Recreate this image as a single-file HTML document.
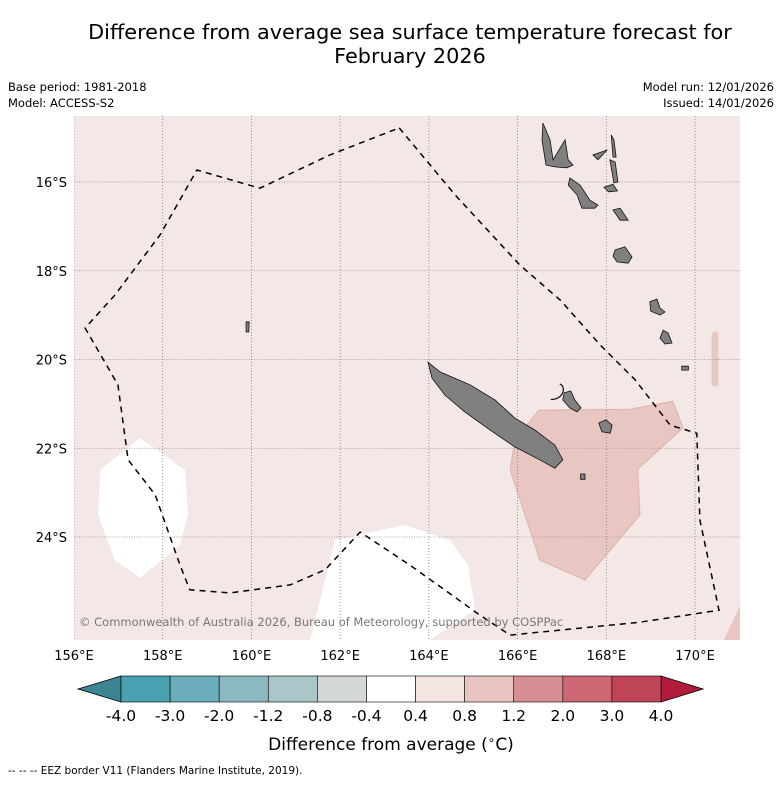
<!DOCTYPE html>
<html><head><meta charset="utf-8"><style>
body{margin:0;background:#fff;}
svg text{font-family:"DejaVu Sans","Liberation Sans",sans-serif;}
</style></head><body>
<svg id="chart" width="781" height="781" viewBox="0 0 781 781">
<text x="410" y="39" font-size="20.8" text-anchor="middle" fill="#000">Difference from average sea surface temperature forecast for</text>
<text x="410" y="63" font-size="20.8" text-anchor="middle" fill="#000">February 2026</text>
<text x="8" y="91" font-size="11.5">Base period: 1981-2018</text>
<text x="8" y="107" font-size="11.5">Model: ACCESS-S2</text>
<text x="774" y="91" font-size="11.5" text-anchor="end">Model run: 12/01/2026</text>
<text x="774" y="107" font-size="11.5" text-anchor="end">Issued: 14/01/2026</text>
<defs><clipPath id="mapclip"><rect x="74" y="116" width="666" height="524"/></clipPath></defs>
<rect x="74" y="116" width="666" height="524" fill="#f4e8e6"/>
<g id="map" clip-path="url(#mapclip)"></g>
<g id="axes"></g>
<text x="79" y="626" font-size="11.5" fill="#777">© Commonwealth of Australia 2026, Bureau of Meteorology, supported by COSPPac</text>
<g id="cbar"></g>
<text x="391" y="750" font-size="17" text-anchor="middle">Difference from average (<tspan font-size="12" dy="-6">∘</tspan><tspan dy="6">C)</tspan></text>
<text x="8" y="774" font-size="10.5">--  --  -- EEZ border V11 (Flanders Marine Institute, 2019).</text>
</svg>
<script>
const lonTicks=[156,158,160,162,164,166,168,170];
const latTicks=[16,18,20,22,24];
const cbLevels=[-4.0,-3.0,-2.0,-1.2,-0.8,-0.4,0.4,0.8,1.2,2.0,3.0,4.0];
const cbColors=["#4aa1b1","#6badba","#8cb8c1","#a9c6c9","#d4d7d7","#ffffff","#f4e4e2","#e8c5c0","#d88f93","#cd6873","#bf4457"];
const cbUnder="#3d8593", cbOver="#b01c3a";
const pinkRegion=[[166.48,21.14],[168.53,21.12],[169.50,20.94],[169.73,21.54],[168.71,22.47],[168.76,23.50],[167.52,24.97],[166.50,24.52],[165.83,22.49],[165.94,21.81]];
const pinkCorner=[[170.61,26.4],[171.1,25.37],[171.1,26.4]];
const pinkStreak=[[170.45,19.45],[170.45,20.53]];
const whiteRegion1=[[157.49,21.77],[158.50,22.49],[158.57,23.50],[158.39,24.18],[157.49,24.92],[156.92,24.52],[156.54,23.50],[156.59,22.49]];
const whiteRegion2=[[161.55,25.42],[161.88,24.07],[163.46,23.73],[164.48,24.07],[164.88,24.63],[165.04,25.65],[164.03,26.32],[161.32,26.32]];
const eez=[[163.33,14.78],[164.59,16.29],[166.05,17.87],[166.96,18.66],[167.86,19.67],[168.65,20.46],[169.44,21.48],[170.04,21.66],[170.11,23.62],[170.54,25.65],[168.76,25.92],[165.83,26.21],[165.15,25.76],[163.57,24.63],[162.45,23.89],[161.66,24.74],[160.87,25.08],[159.52,25.26],[158.61,25.19],[158.39,24.63],[157.83,23.05],[157.22,22.26],[156.99,20.57],[156.25,19.29],[156.92,18.55],[157.94,17.19],[158.77,15.73],[160.19,16.14],[161.77,15.39],[163.33,14.78]];
const islands=[
 [[163.98,20.06],[164.25,20.28],[164.93,20.57],[165.49,20.91],[165.94,21.32],[166.39,21.59],[166.84,21.93],[167.02,22.26],[166.84,22.45],[166.50,22.26],[165.94,21.97],[165.38,21.59],[164.81,21.18],[164.36,20.80],[164.07,20.42]],
 [[166.57,14.67],[166.73,15.05],[166.80,15.50],[167.07,15.05],[167.14,15.50],[167.25,15.62],[167.11,15.68],[166.84,15.66],[166.64,15.62],[166.55,15.05]],
 [[167.18,15.91],[167.41,16.07],[167.63,16.41],[167.81,16.52],[167.74,16.59],[167.45,16.59],[167.34,16.29],[167.14,16.07]],
 [[168.20,17.53],[168.42,17.46],[168.58,17.69],[168.49,17.83],[168.24,17.80],[168.15,17.67]],
 [[168.11,14.94],[168.17,15.05],[168.22,15.44],[168.15,15.44]],
 [[167.70,15.39],[168.02,15.28],[167.81,15.50]],
 [[168.08,15.50],[168.20,15.55],[168.26,16.00],[168.17,16.02]],
 [[168.15,16.63],[168.31,16.59],[168.49,16.86],[168.31,16.86]],
 [[167.95,16.12],[168.15,16.05],[168.25,16.2],[168.05,16.22]],
 [[168.98,18.70],[169.14,18.64],[169.21,18.84],[169.32,18.93],[169.21,19.00],[169.00,18.91]],
 [[169.28,19.34],[169.39,19.40],[169.48,19.63],[169.32,19.65],[169.21,19.52]],
 [[167.05,20.75],[167.20,20.71],[167.29,20.91],[167.43,21.09],[167.34,21.18],[167.18,21.09],[167.02,20.91]],
 [[167.83,21.43],[167.99,21.36],[168.13,21.48],[168.09,21.66],[167.90,21.63]],
 [[167.42,22.58],[167.52,22.58],[167.52,22.70],[167.42,22.70]],
 [[169.70,20.15],[169.85,20.15],[169.85,20.24],[169.70,20.24]],
 [[159.88,19.15],[159.95,19.15],[159.94,19.38],[159.88,19.38]]
];
const x0=74,px=44.36,y0=182,py=44.375;
const X=lon=>x0+(lon-156)*px;
const Y=lat=>y0+(lat-16)*py;
const NS="http://www.w3.org/2000/svg";
const pts=a=>a.map(p=>X(p[0]).toFixed(1)+","+Y(p[1]).toFixed(1)).join(" ");
function mk(tag,attrs,parent){const e=document.createElementNS(NS,tag);for(const k in attrs)e.setAttribute(k,attrs[k]);parent.appendChild(e);return e;}
const map=document.getElementById("map");
let e;
e=mk("polygon",{points:pts(pinkRegion),fill:"#e8c6c1",stroke:"#dcb5ae","stroke-width":1},map);


e=mk("polygon",{points:pts(pinkCorner),fill:"#e8c6c1"},map);


e=mk("polyline",{points:pts(pinkStreak),stroke:"#e8c6c1","stroke-width":7,"stroke-linecap":"round",fill:"none"},map);


[whiteRegion1,whiteRegion2].forEach((r,i)=>{
 e=mk("polygon",{points:pts(r),fill:"#ffffff"},map);
 
 
});
lonTicks.forEach(l=>{
 e=mk("line",{x1:X(l),x2:X(l),y1:116,y2:640,stroke:"#7a7a8a","stroke-width":0.8,"stroke-dasharray":"1,2"},map);
 
 
});
latTicks.forEach(l=>{
 e=mk("line",{x1:74,x2:740,y1:Y(l),y2:Y(l),stroke:"#a08a88","stroke-width":0.8,"stroke-dasharray":"1,1.5"},map);
 
 
});
islands.forEach(is=>{
 e=mk("polygon",{points:pts(is),fill:"#808080",stroke:"#111","stroke-width":0.8},map);
 
 
});
e=mk("path",{d:`M${X(166.95)},${Y(20.55)} C${X(167.1)},${Y(20.6)} ${X(167.05)},${Y(20.9)} ${X(166.75)},${Y(20.9)}`,stroke:"#111","stroke-width":1.2,fill:"none"},map);


e=mk("polyline",{points:pts(eez),fill:"none",stroke:"#000","stroke-width":1.5,"stroke-dasharray":"6,5"},map);


const ax=document.getElementById("axes");
lonTicks.forEach(l=>{
 e=mk("text",{x:X(l),y:660,"font-size":13,"text-anchor":"middle"},ax);e.textContent=l+"°E";
 
 
});
latTicks.forEach(l=>{
 e=mk("text",{x:67,y:Y(l)+5,"font-size":13,"text-anchor":"end"},ax);e.textContent=l+"°S";
 
 
});
const cb=document.getElementById("cbar");
const cx0=121,cx1=661,cy=676,ch=26,n=cbColors.length,sw=(cx1-cx0)/n;
e=mk("polygon",{points:`${cx0},${cy} ${cx0},${cy+ch} 78,${cy+ch/2}`,fill:cbUnder,stroke:"#000","stroke-width":0.8},cb);


e=mk("polygon",{points:`${cx1},${cy} ${cx1},${cy+ch} 703,${cy+ch/2}`,fill:cbOver,stroke:"#000","stroke-width":0.8},cb);


cbColors.forEach((c,i)=>{
 e=mk("rect",{x:cx0+i*sw,y:cy,width:sw,height:ch,fill:c,stroke:"#000","stroke-width":0.6},cb);
 
 
});
cbLevels.forEach((v,i)=>{
 e=mk("text",{x:cx0+i*sw,y:721,"font-size":15.5,"text-anchor":"middle"},cb);e.textContent=v.toFixed(1);
 
 
});
</script>
</body></html>
